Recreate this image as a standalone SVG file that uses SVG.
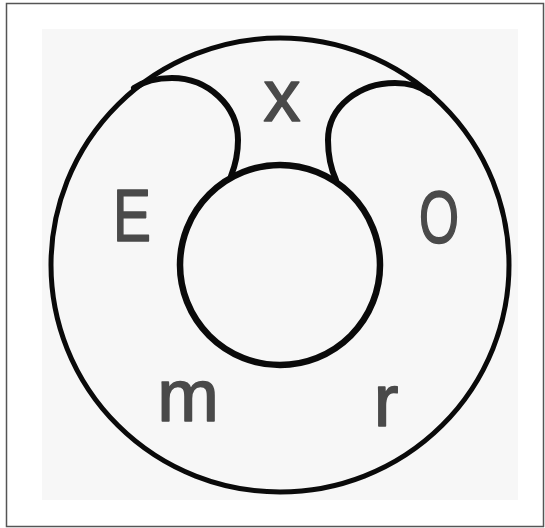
<svg xmlns="http://www.w3.org/2000/svg" width="545" height="528" viewBox="0 0 545 528">
  <style>
    .line { fill: none; stroke: #0a0a0a; stroke-linecap: round; stroke-linejoin: round; }
    .lbl { font-family: "Liberation Sans", Arial, sans-serif; font-size: 74px; fill: #4a4a4a; stroke: #4a4a4a; stroke-width: 1.6; stroke-linejoin: round; text-anchor: middle; }
  </style>
  <rect x="0" y="0" width="545" height="528" fill="#ffffff"/>
  <rect x="42" y="29" width="476" height="471" fill="#f7f7f7"/>
  <rect x="6.5" y="3.5" width="537" height="523" fill="none" stroke="#555555" stroke-width="1.5"/>

  <g id="outer-ring">
    <ellipse class="line" cx="280" cy="265" rx="229" ry="227" stroke-width="5" fill="#fcfcfc"/>
  </g>
  <g id="inner-circle">
    <circle class="line" cx="280" cy="265" r="100" stroke-width="6.5" fill="#fcfcfc"/>
  </g>
  <g id="connectors">
    <path id="left-lobe" class="line" stroke-width="6" d="M 134 88 C 146 80 158 78 172 78 C 208 78 238 106 238 140 C 238 155 235 166 231 176"/>
    <path id="right-lobe" class="line" stroke-width="6" d="M 336 180 C 331 169 328 156 328 140 C 328 106 360 83 395 83 C 410 83 421 87 429 93"/>
  </g>

  <g id="label-x"><text class="lbl" x="282" y="121">x</text></g>
  <g id="label-E"><text class="lbl" x="132" y="241" textLength="38" lengthAdjust="spacingAndGlyphs">E</text></g>
  <g id="label-O"><text class="lbl" x="439" y="243" textLength="40" lengthAdjust="spacingAndGlyphs">O</text></g>
  <g id="label-m"><text class="lbl" x="188" y="421">m</text></g>
  <g id="label-r"><text class="lbl" x="386" y="426">r</text></g>
</svg>
